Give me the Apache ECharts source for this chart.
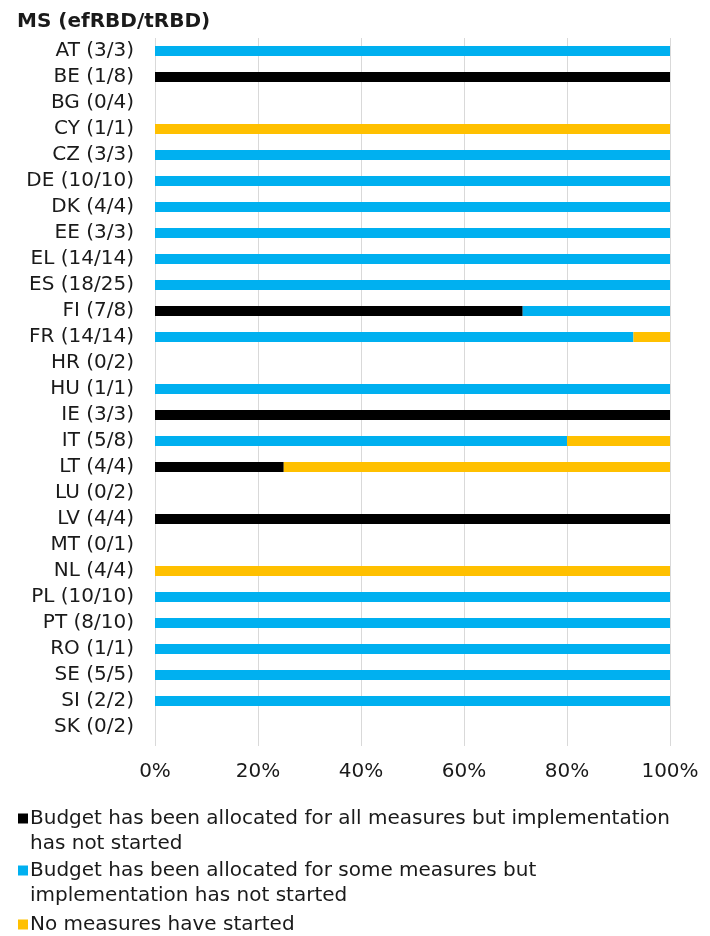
<!DOCTYPE html>
<html>
<head>
<meta charset="utf-8">
<script src="https://cdn.jsdelivr.net/npm/echarts@6/dist/echarts.min.js"></script>
<style>
  html, body { margin: 0; padding: 0; background: #fff; }
  #main { width: 710px; height: 936px; }
</style>
</head>
<body>
<div id="main"></div>
<script>
var chart = echarts.init(document.getElementById('main'));

var countries = ['AT (3/3)', 'BE (1/8)', 'BG (0/4)', 'CY (1/1)', 'CZ (3/3)', 'DE (10/10)', 'DK (4/4)',
  'EE (3/3)', 'EL (14/14)', 'ES (18/25)', 'FI (7/8)', 'FR (14/14)', 'HR (0/2)', 'HU (1/1)', 'IE (3/3)',
  'IT (5/8)', 'LT (4/4)', 'LU (0/2)', 'LV (4/4)', 'MT (0/1)', 'NL (4/4)', 'PL (10/10)', 'PT (8/10)',
  'RO (1/1)', 'SE (5/5)', 'SI (2/2)', 'SK (0/2)'];

// share of measures (%)
var allMeasures  = [0, 100, 0, 0, 0, 0, 0, 0, 0, 0, 71.4, 0, 0, 0, 100, 0, 25, 0, 100, 0, 0, 0, 0, 0, 0, 0, 0];
var someMeasures = [100, 0, 0, 0, 100, 100, 100, 100, 100, 100, 28.6, 92.9, 0, 100, 0, 80, 0, 0, 0, 0, 0, 100, 100, 100, 100, 100, 0];
var noMeasures   = [0, 0, 0, 100, 0, 0, 0, 0, 0, 0, 0, 7.1, 0, 0, 0, 20, 75, 0, 0, 0, 100, 0, 0, 0, 0, 0, 0];

var xTicks = [0, 20, 40, 60, 80, 100];

var names = [
  'Budget has been allocated for all measures but implementation has not started',
  'Budget has been allocated for some measures but implementation has not started',
  'No measures have started'
];
// an empty first line keeps the marker level with the first text line
var wrapped = {};
wrapped[names[0]] = ' \nBudget has been allocated for all measures but implementation\nhas not started';
wrapped[names[1]] = ' \nBudget has been allocated for some measures but\nimplementation has not started';
wrapped[names[2]] = 'No measures have started';

var font = 'DejaVu Sans';
var fs = 20;

function legendFor(name, top) {
  return {
    data: [name],
    left: 18,
    top: top,
    padding: 0,
    orient: 'vertical',
    icon: 'rect',
    itemWidth: 10,
    itemHeight: 10,
    itemGap: 0,
    selectedMode: false,
    formatter: function (n) { return wrapped[n]; },
    textStyle: {
      fontFamily: font,
      fontSize: fs,
      color: '#1a1a1a',
      lineHeight: 25,
      padding: [0, 0, 0, -3]
    }
  };
}

var option = {
  backgroundColor: '#fff',
  animation: false,
  title: {
    text: 'MS (efRBD/tRBD)',
    left: 12,
    top: 7,
    textStyle: {
      fontFamily: font,
      fontSize: fs,
      fontWeight: 'bold',
      color: '#1a1a1a'
    }
  },
  grid: {
    left: 155,
    right: 40,
    top: 38,
    height: 702
  },
  legend: [
    legendFor(names[0], 781),
    legendFor(names[1], 833),
    legendFor(names[2], 912)
  ],
  xAxis: {
    type: 'value',
    min: xTicks[0],
    max: xTicks[xTicks.length - 1],
    interval: 20,
    axisLine: { show: false },
    axisTick: { show: true, length: 6, lineStyle: { color: '#d9d9d9' } },
    splitLine: { lineStyle: { color: '#d9d9d9', width: 1 } },
    axisLabel: {
      formatter: '{value}%',
      fontFamily: font,
      fontSize: fs,
      color: '#1a1a1a',
      margin: 22
    }
  },
  yAxis: {
    type: 'category',
    inverse: true,
    data: countries,
    axisLine: { show: false },
    axisTick: { show: false },
    axisLabel: {
      interval: 0,
      hideOverlap: false,
      fontFamily: font,
      fontSize: fs,
      color: '#1a1a1a',
      margin: 21
    }
  },
  series: [
    { name: names[0], type: 'bar', stack: 'total', data: allMeasures, barWidth: 10, itemStyle: { color: '#000000' } },
    { name: names[1], type: 'bar', stack: 'total', data: someMeasures, barWidth: 10, itemStyle: { color: '#00b0f0' } },
    { name: names[2], type: 'bar', stack: 'total', data: noMeasures, barWidth: 10, itemStyle: { color: '#ffc000' } }
  ]
};

chart.setOption(option);
</script>
</body>
</html>
